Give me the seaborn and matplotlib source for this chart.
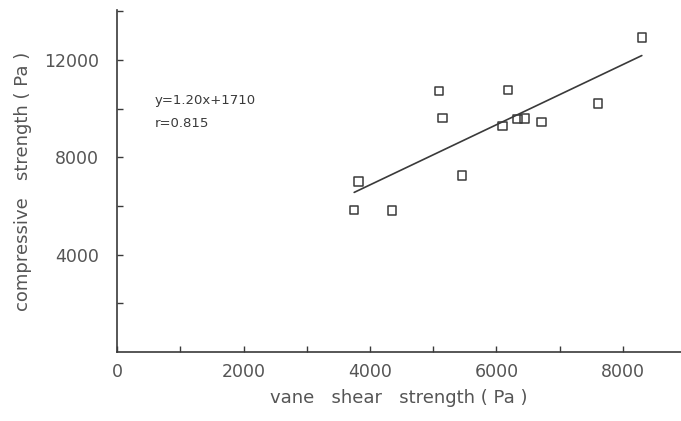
import numpy as np
import pandas as pd
import matplotlib
matplotlib.use("Agg")
import matplotlib.pyplot as plt
import seaborn as sns

# Data
vane_shear = [8300, 5090, 6180, 5150, 7610, 6100, 6330, 6440, 6710, 5455, 3820, 3750, 4350]
compressive = [12920, 10730, 10770, 9620, 10200, 9280, 9580, 9600, 9450, 7250, 7000, 5840, 5810]

x_major = [0, 2000, 4000, 6000, 8000]
x_minor = [1000, 3000, 5000, 7000]
y_major = [4000, 8000, 12000]
y_minor = [2000, 6000, 10000, 14000]

equation_text = "y=1.20x+1710"
r_text = "r=0.815"
x_label = "vane   shear   strength ( Pa )"
y_label = "compressive   strength ( Pa )"

df = pd.DataFrame({"vane": vane_shear, "comp": compressive})

sns.set_theme(style="ticks")
plt.rcParams["font.family"] = ["DejaVu Sans"]

ink = "#3a3a3a"
txt = "#555555"

fig = plt.figure(figsize=(6.81, 4.21), dpi=100)
ax = fig.add_axes([0.172, 0.164, 0.828, 0.812])

sns.regplot(data=df, x="vane", y="comp", ax=ax, scatter=False, ci=None,
            truncate=True, line_kws=dict(color=ink, linewidth=1.2))
sns.scatterplot(data=df, x="vane", y="comp", ax=ax, marker="s", s=38,
                facecolors="none", edgecolors=ink, linewidth=1.1, legend=False)

ax.set_xlim(0, 8920)
ax.set_ylim(0, 14050)

ax.set_xticks(x_major)
ax.set_xticks(x_minor, minor=True)
ax.set_yticks(y_major)
ax.set_yticks(y_minor, minor=True)
ax.set_xticklabels([str(v) for v in x_major])
ax.set_yticklabels([str(v) for v in y_major])

ax.tick_params(axis="both", which="both", direction="in", length=4.5, width=1,
               color=ink, labelcolor=txt, labelsize=12.5)
ax.tick_params(axis="x", which="both", pad=8)
ax.tick_params(axis="y", which="both", pad=13)

for side in ["top", "right"]:
    ax.spines[side].set_visible(False)
for side in ["left", "bottom"]:
    ax.spines[side].set_color(ink)
    ax.spines[side].set_linewidth(1.2)

ax.set_xlabel(x_label, fontsize=13, color=txt, labelpad=6)
ax.set_ylabel(y_label, fontsize=13, color=txt, labelpad=9)

ax.text(600, 10320, equation_text, fontsize=9.5, color=ink, va="center", ha="left")
ax.text(600, 9380, r_text, fontsize=9.5, color=ink, va="center", ha="left")

fig.savefig("out.png", dpi=100, facecolor="white")
